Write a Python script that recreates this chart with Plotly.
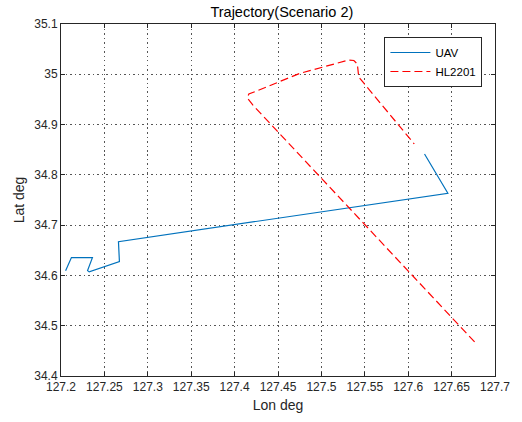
import plotly.graph_objects as go

uav_lon = [127.2053, 127.2120, 127.2362, 127.2306, 127.2325, 127.2673, 127.2662, 127.6457, 127.6188]
uav_lat = [34.6095, 34.6354, 34.6354, 34.6095, 34.6070, 34.6274, 34.6672, 34.7634, 34.8416]

hl_lon = [127.6765, 127.4209, 127.4147, 127.4164, 127.4253, 127.4755, 127.5315, 127.5374,
          127.5414, 127.5425, 127.5430, 127.5487, 127.6070]
hl_lat = [34.4678, 34.9390, 34.9529, 34.9608, 34.9668, 35.0020, 35.0284, 35.0274,
          35.0205, 35.0086, 34.9946, 34.9827, 34.8614]

x_ticks = [127.2, 127.25, 127.3, 127.35, 127.4, 127.45, 127.5, 127.55, 127.6, 127.65, 127.7]
x_labels = ["127.2", "127.25", "127.3", "127.35", "127.4", "127.45", "127.5", "127.55", "127.6", "127.65", "127.7"]
y_ticks = [34.4, 34.5, 34.6, 34.7, 34.8, 34.9, 35.0, 35.1]
y_labels = ["34.4", "34.5", "34.6", "34.7", "34.8", "34.9", "35", "35.1"]

FONT = "Liberation Sans, Arial"

fig = go.Figure()
fig.add_trace(go.Scatter(x=uav_lon, y=uav_lat, mode="lines", name="UAV",
                         line=dict(color="#0072BD", width=1.2)))
fig.add_trace(go.Scatter(x=hl_lon, y=hl_lat, mode="lines", name="HL2201",
                         line=dict(color="#FF0000", width=1.2, dash="8px,4px")))

axis_common = dict(showline=True, linecolor="#262626", linewidth=1, mirror="ticks",
                   ticks="inside", ticklen=4, tickcolor="#262626",
                   showgrid=True, gridcolor="#555555", griddash="1.5px,3px", gridwidth=1,
                   zeroline=False, ticklabeloverflow="allow",
                   tickfont=dict(family=FONT, size=12, color="#262626"))

fig.update_layout(
    width=522, height=422,
    margin=dict(l=61, r=15, t=24, b=46),
    paper_bgcolor="white", plot_bgcolor="white",
    title=dict(text="Trajectory(Scenario 2)", x=0.54, xanchor="center", y=0.972, yanchor="middle",
               font=dict(family=FONT, size=14.5, color="#000000")),
    xaxis=dict(range=[127.2, 127.7], tickvals=x_ticks, ticktext=x_labels,
               title=dict(text="Lon deg", standoff=6, font=dict(family=FONT, size=14, color="#262626")),
               **axis_common),
    yaxis=dict(range=[34.4, 35.1], tickvals=y_ticks, ticktext=y_labels,
               title=dict(text="Lat deg", standoff=6, font=dict(family=FONT, size=14, color="#262626")),
               **axis_common),
    legend=dict(x=0.971, y=0.963, xanchor="right", yanchor="top",
                bgcolor="white", bordercolor="#262626", borderwidth=1,
                font=dict(family=FONT, size=11.5, color="#000000"),
                tracegroupgap=0, itemwidth=40),
    showlegend=True,
)

fig.write_html("out.html", config={"displayModeBar": False},
               post_script="document.body.style.margin='0';document.body.style.padding='0';")
